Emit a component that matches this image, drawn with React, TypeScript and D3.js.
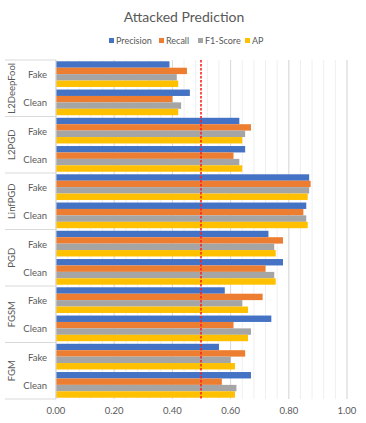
import { scaleBand, scaleLinear, range } from 'd3'

const W = 366
const H = 423
const M = { top: 60, right: 19, bottom: 24, left: 56 }

const GROUPS = ['L2DeepFool', 'L2PGD', 'LinfPGD', 'PGD', 'FGSM', 'FGM']
const SUBS = ['Fake', 'Clean']
const SERIES = ['Precision', 'Recall', 'F1-Score', 'AP']
const COLORS = ['#4472C4', '#ED7D31', '#A5A5A5', '#FFC000']

// values per group: [Fake, Clean] x [Precision, Recall, F1, AP]
const L2DEEPFOOL = [[0.39, 0.45, 0.415, 0.42], [0.46, 0.40, 0.43, 0.42]]
const L2PGD = [[0.63, 0.67, 0.65, 0.64], [0.65, 0.61, 0.63, 0.64]]
const LINFPGD = [[0.87, 0.875, 0.87, 0.865], [0.86, 0.85, 0.86, 0.865]]
const PGD = [[0.73, 0.78, 0.75, 0.755], [0.78, 0.72, 0.75, 0.755]]
const FGSM = [[0.58, 0.71, 0.64, 0.66], [0.74, 0.61, 0.67, 0.66]]
const FGM = [[0.56, 0.65, 0.60, 0.615], [0.67, 0.57, 0.62, 0.615]]
const VALUES = [L2DEEPFOOL, L2PGD, LINFPGD, PGD, FGSM, FGM]

const X_TICKS = [0, 0.2, 0.4, 0.6, 0.8, 1.0]
const THRESHOLD = 0.5

const FONT = 'Lato, "Open Sans", sans-serif'
const TXT = '#595959'

export default function App() {
  const x = scaleLinear().domain([0, 1]).range([M.left, M.left + 291])
  const y = scaleBand().domain(GROUPS).range([M.top, H - M.bottom])
  const ySub = scaleBand().domain(SUBS).range([0, y.bandwidth()])
  const ySer = scaleBand().domain(SERIES).range([0, ySub.bandwidth()]).paddingOuter(0.2).paddingInner(0)

  const minor = range(0, 1.0001, 0.04)
  const top = M.top
  const bottom = H - M.bottom

  return (
    <svg width={W} height={H} style={{ position: 'absolute', left: 0, top: 0, background: '#fff' }}>
      <rect width={W} height={H} fill="#fff" />
      <text x={W / 2 + 1} y={22} textAnchor="middle" fontFamily={FONT} fontSize={14} fill={TXT}>
        Attacked Prediction
      </text>
      {/* legend */}
      {SERIES.map((s, i) => {
        const lx = [109, 159, 198, 245][i]
        return (
          <g key={s}>
            <rect x={lx} y={38} width={5} height={5} fill={COLORS[i]} />
            <text x={lx + 7} y={44} fontFamily={FONT} fontSize={9} fill={TXT}>{s}</text>
          </g>
        )
      })}
      {/* gridlines */}
      {minor.map((t) => (
        <line key={`m${t}`} x1={x(t)} x2={x(t)} y1={top} y2={bottom} stroke="#efefef" strokeWidth={1} />
      ))}
      {X_TICKS.map((t) => (
        <line key={`g${t}`} x1={x(t)} x2={x(t)} y1={top} y2={bottom} stroke="#d9d9d9" strokeWidth={1} />
      ))}
      {/* bars */}
      {GROUPS.map((g, gi) =>
        SUBS.map((sub, si) =>
          SERIES.map((s, k) => (
            <rect
              key={`${g}-${sub}-${s}`}
              x={x(0)}
              y={(y(g) as number) + (ySub(sub) as number) + (ySer(s) as number)}
              width={x(VALUES[gi][si][k]) - x(0)}
              height={ySer.bandwidth()}
              fill={COLORS[k]}
            />
          ))
        )
      )}
      {/* threshold */}
      <line x1={x(THRESHOLD) - 0.5} x2={x(THRESHOLD) - 0.5} y1={top} y2={bottom} stroke="#FF2020" strokeWidth={1.6} strokeDasharray="2.5,1.5" />
      {/* vertical axis */}
      <line x1={x(0)} x2={x(0)} y1={top} y2={bottom} stroke="#d9d9d9" />
      {range(GROUPS.length + 1).map((i) => {
        const yy = i < GROUPS.length ? (y(GROUPS[i]) as number) : bottom
        return <line key={`s${i}`} x1={5} x2={x(0)} y1={yy} y2={yy} stroke="#d9d9d9" />
      })}
      {GROUPS.map((g) => (
        <g key={g}>
          <text
            transform={`translate(15,${(y(g) as number) + y.bandwidth() / 2}) rotate(-90)`}
            textAnchor="middle"
            fontFamily={FONT}
            fontSize={9.5}
            fill={TXT}
          >
            {g}
          </text>
          {SUBS.map((sub) => (
            <text
              key={sub}
              x={47}
              y={(y(g) as number) + (ySub(sub) as number) + ySub.bandwidth() / 2 + 4}
              textAnchor="end"
              fontFamily={FONT}
              fontSize={9.5}
              fill={TXT}
            >
              {sub}
            </text>
          ))}
        </g>
      ))}
      {X_TICKS.map((t) => (
        <text key={`t${t}`} x={x(t)} y={414} textAnchor="middle" fontFamily={FONT} fontSize={9.5} fill={TXT}>
          {t.toFixed(2)}
        </text>
      ))}
    </svg>
  )
}
